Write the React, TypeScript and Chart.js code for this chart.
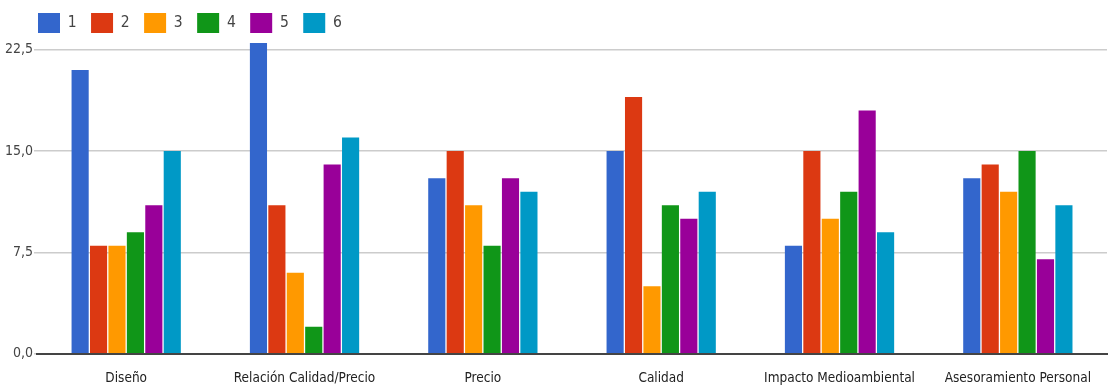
import React, { useEffect, useRef } from "react";
import { Chart, registerables } from "chart.js";

Chart.register(...registerables);

const categories = ["Diseño", "Relación Calidad/Precio", "Precio", "Calidad", "Impacto Medioambiental", "Asesoramiento Personal"];
const seriesNames = ["1", "2", "3", "4", "5", "6"];
const s1 = [21, 23, 13, 15, 8, 13];
const s2 = [8, 11, 15, 19, 15, 14];
const s3 = [8, 6, 11, 5, 10, 12];
const s4 = [9, 2, 8, 11, 12, 15];
const s5 = [11, 14, 13, 10, 18, 7];
const s6 = [15, 16, 12, 12, 9, 11];
const colors = ["#3366cc", "#dc3912", "#ff9900", "#109618", "#990099", "#0099c6"];
const yTicks = [0, 7.5, 15, 22.5];

const FONT = "'DejaVu Sans Condensed', 'Liberation Sans Narrow', 'Roboto', sans-serif";

const legendShift = {
  id: "legendShift",
  afterLayout(chart: any) {
    const l = chart.legend;
    if (l) {
      l.left += 24;
      l.right += 24;
    }
  },
};

export default function App() {
  const ref = useRef<HTMLCanvasElement>(null);
  useEffect(() => {
    const values = [s1, s2, s3, s4, s5, s6];
    const chart = new Chart(ref.current!, {
      type: "bar",
      data: {
        labels: categories,
        datasets: values.map((v, i) => ({
          label: seriesNames[i],
          data: v,
          backgroundColor: colors[i],
          borderWidth: 0,
          categoryPercentage: 0.62,
          barPercentage: 0.93,
        })),
      },
      plugins: [legendShift],
      options: {
        animation: false,
        responsive: false,
        layout: { padding: { left: 4, right: 0, top: 3, bottom: -14 } },
        plugins: {
          tooltip: { enabled: false },
          legend: {
            position: "top",
            align: "start",
            labels: {
              boxWidth: 22,
              boxHeight: 20,
              padding: 10,
              color: "#444",
              font: { family: FONT, size: 15.5 },
              generateLabels: (chart: any) =>
                Chart.defaults.plugins.legend.labels.generateLabels(chart).map((it: any) => ({
                  ...it,
                  text: it.text + " ",
                  lineWidth: 0,
                })),
            },
          },
        },
        scales: {
          x: {
            grid: { display: false, drawTicks: false },
            border: { display: true, color: "#444", width: 2 },
            ticks: { color: "#222", font: { family: FONT, size: 13.5 }, maxRotation: 0, padding: 17 },
          },
          y: {
            min: 0,
            max: 23,
            afterBuildTicks: (axis: any) => {
              axis.ticks = yTicks.map((v) => ({ value: v }));
            },
            grid: { color: "#cccccc", lineWidth: 1.5, drawTicks: true, tickLength: 3 },
            border: { display: false },
            ticks: {
              color: "#444",
              font: { family: FONT, size: 14 },
              padding: 1,
              callback: (v: any) => Number(v).toFixed(1).replace(".", ","),
            },
          },
        },
      },
    });
    return () => chart.destroy();
  }, []);
  return (
    <div style={{ position: "fixed", left: 0, top: 0, width: 1108, height: 390, background: "#fff" }}>
      <canvas ref={ref} width={1108} height={390} />
    </div>
  );
}
